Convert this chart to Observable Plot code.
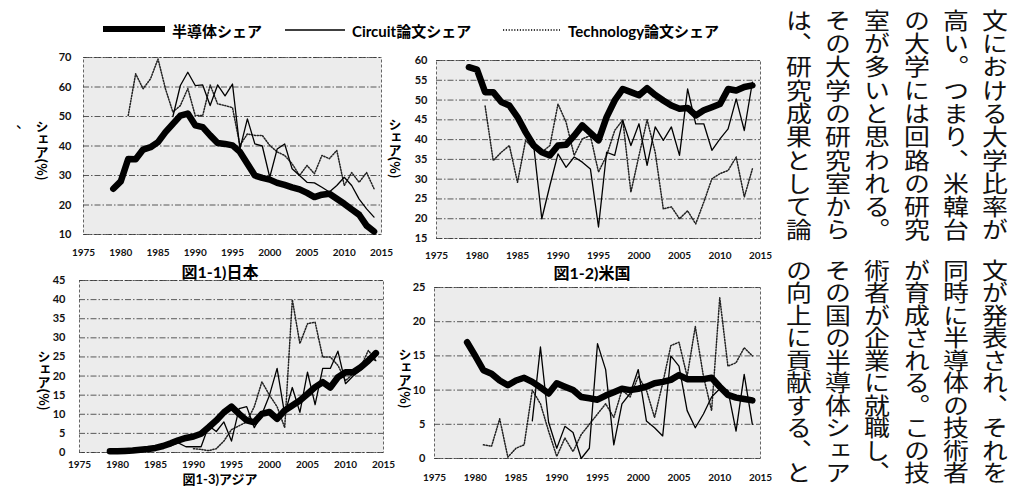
<!DOCTYPE html>
<html><head><meta charset="utf-8">
<script src="https://cdn.jsdelivr.net/npm/d3@7"></script>
<script src="https://cdn.jsdelivr.net/npm/@observablehq/plot@0.6"></script>
<style>
body{margin:0;background:#fff;}
#root{position:relative;width:1014px;height:486px;overflow:hidden;font-family:Lato,"Noto Sans CJK JP",sans-serif;}
#root svg{position:absolute;overflow:visible;}
.ytitle{position:absolute;writing-mode:vertical-rl;font:bold 13px "Noto Sans CJK JP";line-height:15px;transform:translate(-50%,-50%);white-space:nowrap;}
.cap{position:absolute;font:bold 16px Lato,"Noto Sans CJK JP";transform:translate(-50%,-50%);white-space:nowrap;}
.col{position:absolute;writing-mode:vertical-rl;font:400 22.5px/24px "Noto Sans CJK JP";transform:scaleX(1.15);white-space:nowrap;color:#111;}
.leg{position:absolute;font:bold 15px Lato,"Noto Sans CJK JP";transform:translateY(-50%);white-space:nowrap;}
</style></head>
<body><div id="root"></div>
<script>
// ---- data ----
const yearsSemi = [1979,1980,1981,1982,1983,1984,1985,1986,1987,1988,1989,1990,1991,1992,1993,1994,1995,1996,1997,1998,1999,2000,2001,2002,2003,2004,2005,2006,2007,2008,2009,2010,2011,2012,2013,2014];
const yearsCircuit = [1987,1988,1989,1990,1991,1992,1993,1994,1995,1996,1997,1998,1999,2000,2001,2002,2003,2004,2005,2006,2007,2008,2009,2010,2011,2012,2013,2014];
const yearsTech = [1981,1982,1983,1984,1985,1986,1987,1988,1989,1990,1991,1992,1993,1994,1995,1996,1997,1998,1999,2000,2001,2002,2003,2004,2005,2006,2007,2008,2009,2010,2011,2012,2013,2014];
const yearsTechAsia = [1990,1991,1992,1993,1994,1995,1996,1997,1998,1999,2000,2001,2002,2003,2004,2005,2006,2007,2008,2009,2010,2011,2012,2013,2014];
const xTickYears = [1975,1980,1985,1990,1995,2000,2005,2010,2015];

// 図1-1) 日本
const jpSemi = [25.5,28,35.6,35.5,38.8,39.6,41.3,44.7,47.5,50.3,51,47,46.4,43.6,41,40.7,40.2,38,34,30,29.2,28.6,27.5,26.8,26,25.3,24.1,22.7,23.5,23.8,22.1,20.4,18.5,16.7,13,11];
const jpCircuit = [50,60.5,65,60.5,60.7,53.7,60.7,57,61,39,49.2,40.7,40,29.4,39,40.7,32.3,30,27.7,27.5,26,24.4,26.6,29.4,26.6,22,18.7,15.9];
const jpTech = [50.3,64.5,59.4,62.8,69.5,59.4,51.5,53.7,59.5,50.3,50.3,60.7,54.3,53.7,53,40.2,44.1,43.6,43.6,40.2,38,36.8,34,30,33.4,30.6,36.8,35.7,38.5,26.6,31,27.7,31,25.5];
const jpTicks = [10,20,30,40,50,60,70];

// 図1-2) 米国
const usSemi = [58.3,57.7,52,52,49.5,48.6,45.7,41.9,38.5,36.8,36,38.5,38.7,41,43.6,41.7,39.8,45.7,49.9,52.8,52,51.2,53,51.3,49.9,48.6,47.8,48,46.1,47.4,48.2,49,52.8,52.4,53.3,53.7];
const usCircuit = [38.5,20,28.4,36.4,33,35.6,34.3,32.6,17.9,36.8,36,44.8,38.5,44,33.5,43.2,39.8,43.2,36,52.8,44,44,37.3,40.2,42.7,50.3,42.3,54.5];
const usTech = [48.5,34.7,36.8,38.5,29.2,39.8,37.7,36.8,38.5,49,44.4,36,40.2,41,31.8,36,42.3,45,26.7,36,45,36.8,22.5,23,20,22,18.7,24.2,30.1,31.4,32.2,35.6,25.5,32.6];
const usTicks = [15,20,25,30,35,40,45,50,55,60];

// 図1-3) アジア
const asSemi = [0.3,0.3,0.4,0.5,0.7,0.9,1.2,1.7,2.4,3.2,3.8,4.2,4.9,6.6,8.4,10.5,12,10.1,8.4,7.9,10.1,10.6,8.8,11,12.3,13.6,15.3,17.1,18.4,17,19.7,21,21,22.3,24,26];
const asCircuit = [1.8,2.5,1.5,1.5,1.5,7,5.5,8,3,11.5,12,6.5,10,15,22,10,17,10.5,21,12.5,22,22,26.5,18,20,21.5,25,24];
const asTech = [1,0.8,0.5,1,3,6,7,8,12,18.5,15,12,6.5,40,28.5,33.7,34.1,25,25,22.8,18.8,20.6,22.3,26.7,24.1];
const asTicks = [0,5,10,15,20,25,30,35,40,45];

// 図1-4)
const p4Semi = [17,15,12.9,12.4,11.4,10.7,11.4,11.8,11.2,10.4,9.5,11,10.5,10,9,8.8,8.6,9.2,9.7,10.2,10,10.2,10.5,11,11.2,11.5,12.2,11.6,11.6,11.6,11.8,10.5,9.3,8.9,8.7,8.5];
const p4Circuit = [5.5,16.3,5.3,1.5,4.7,3.8,0,1.5,16.8,13,2,8,9.5,13,5.5,4.5,3.3,15,13.5,7,4.5,6.5,9,10.2,10,4,12.3,5];
const p4Tech = [2,1.8,5.8,0.2,1.5,2,10,8,4,0.3,3,1,3.5,5,6.5,8,6,10,9,12,10,6,11,16.5,17,12,19.3,12,7,23.5,13.5,14,16.2,15];
const p4Ticks = [0,5,10,15,20,25];

const legendLabels = ["半導体シェア", "Circuit論文シェア", "Technology論文シェア"];
const yTitle = "シェア(%)";
const captions = ["図1-1)日本", "図1-2)米国", "図1-3)アジア"];
const bodyTop = ["文における大学比率が","高い。つまり、米韓台","の大学には回路の研究","室が多いと思われる。","その大学の研究室から","は、研究成果として論"];
const bodyBottom = ["文が発表され、それを","同時に半導体の技術者","が育成される。この技","術者が企業に就職し、","その国の半導体シェア","の向上に貢献する、と"];

// ---- drawing ----
const root = document.getElementById("root");
const zip = (ys, vs) => ys.map((y, i) => ({year: y, value: vs[i]}));

function panel(c) {
  const svg = Plot.plot({
    width: c.w, height: c.h,
    marginLeft: c.x0 - c.left, marginRight: c.left + c.w - c.x1,
    marginTop: c.y0 - c.top, marginBottom: c.top + c.h - c.y1,
    x: {domain: [1975, 2015], axis: null},
    y: {domain: [c.ticks[0], c.ticks[c.ticks.length - 1]], axis: null},
    style: {background: "transparent", overflow: "visible"},
    marks: [
      Plot.frame({fill: "#ececec", stroke: "#555", strokeDasharray: "3,2", strokeWidth: 0.9}),
      Plot.gridY(c.ticks, {stroke: "#333", strokeOpacity: 1, strokeWidth: 0.8, strokeDasharray: "6,2,1.5,2"}),
      Plot.axisX(xTickYears, {tickSize: 0, tickPadding: c.xpad, tickFormat: d => String(d), fontSize: 10, fontWeight: "bold", fontFamily: "Lato", label: null, fill: "#111"}),
      Plot.axisY(c.ticks, {tickSize: 0, tickPadding: c.ypad, fontSize: 11, fontWeight: "bold", fontFamily: "Lato", label: null, fill: "#111"}),
      Plot.line(zip(c.techYears, c.tech), {x: "year", y: "value", stroke: "#222", strokeWidth: 1.5, strokeDasharray: "1.2,1.6"}),
      Plot.line(zip(yearsCircuit, c.circuit), {x: "year", y: "value", stroke: "#000", strokeWidth: 1.3}),
      Plot.line(zip(yearsSemi, c.semi), {x: "year", y: "value", stroke: "#000", strokeWidth: 6.5, strokeLinejoin: "round", strokeLinecap: "round"})
    ]
  });
  svg.style.left = c.left + "px";
  svg.style.top = c.top + "px";
  root.appendChild(svg);
  const t = document.createElement("div");
  t.className = "ytitle"; t.textContent = yTitle;
  t.style.left = c.tx + "px"; t.style.top = c.ty + "px";
  root.appendChild(t);
  if (c.cap) {
    const cp = document.createElement("div");
    cp.className = "cap"; cp.textContent = c.cap;
    cp.style.left = c.cx + "px"; cp.style.top = c.cy + "px";
    if (c.capSize) cp.style.fontSize = c.capSize + "px";
    root.appendChild(cp);
  }
}

panel({left: 0, top: 40, w: 400, h: 230, x0: 83, x1: 381, y0: 57, y1: 234, ticks: jpTicks,
  semi: jpSemi, circuit: jpCircuit, tech: jpTech, techYears: yearsTech, xpad: 14, ypad: 12,
  tx: 42, ty: 150, cap: captions[0], cx: 220, cy: 271});
panel({left: 380, top: 40, w: 400, h: 230, x0: 436, x1: 760, y0: 60, y1: 238, ticks: usTicks,
  semi: usSemi, circuit: usCircuit, tech: usTech, techYears: yearsTech, xpad: 13, ypad: 9,
  tx: 395, ty: 148, cap: captions[1], cx: 592, cy: 272});
panel({left: 0, top: 270, w: 400, h: 216, x0: 79, x1: 383, y0: 280, y1: 452, ticks: asTicks,
  semi: asSemi, circuit: asCircuit, tech: asTech, techYears: yearsTechAsia, xpad: 8, ypad: 14,
  tx: 44, ty: 380, cap: captions[2], cx: 220, cy: 478, capSize: 13});
panel({left: 380, top: 270, w: 400, h: 216, x0: 434, x1: 760, y0: 287, y1: 458, ticks: p4Ticks,
  semi: p4Semi, circuit: p4Circuit, tech: p4Tech, techYears: yearsTech, xpad: 15, ypad: 9,
  tx: 405, ty: 378, cap: null});

// legend
function legSample(x1, x2, y, w, dash) {
  const s = d3.create("svg").attr("width", x2 - x1 + 4).attr("height", 12)
    .style("left", (x1 - 2) + "px").style("top", (y - 6) + "px");
  s.append("line").attr("x1", 2).attr("x2", x2 - x1 + 2).attr("y1", 6).attr("y2", 6)
    .attr("stroke", "#000").attr("stroke-width", w).attr("stroke-dasharray", dash || null);
  root.appendChild(s.node());
}
legSample(103, 165, 29, 6);
legSample(285, 345, 30, 1.3);
legSample(503, 560, 30, 1.5, "1.2,1.6");
[[172, legendLabels[0]], [352, legendLabels[1]], [568, legendLabels[2]]].forEach(([x, t]) => {
  const d = document.createElement("div"); d.className = "leg"; d.textContent = t;
  d.style.left = x + "px"; d.style.top = "30px"; root.appendChild(d);
});

// stray mark
const st = document.createElement("div");
st.style.cssText = "position:absolute;left:16px;top:112px;font:14px 'Noto Sans CJK JP'";
st.textContent = "、"; root.appendChild(st);

// body text columns (vertical)
const colX = [995, 956, 917, 877, 838, 799];
bodyTop.forEach((t, i) => {
  const d = document.createElement("div"); d.className = "col"; d.textContent = t;
  d.style.left = (colX[i] - 12) + "px"; d.style.top = "9px"; d.style.letterSpacing = "0.8px";
  root.appendChild(d);
});
bodyBottom.forEach((t, i) => {
  const d = document.createElement("div"); d.className = "col"; d.textContent = t;
  d.style.left = (colX[i] - 12) + "px"; d.style.top = "259px"; root.appendChild(d);
});
</script>
</body></html>
